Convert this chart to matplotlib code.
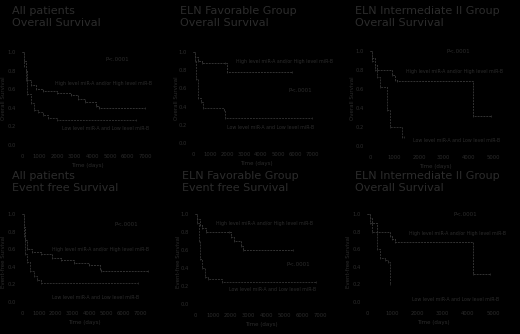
import matplotlib
matplotlib.use("Agg")
import matplotlib.pyplot as plt

W, H = 520, 334
BG = "black"
TXT = "#2c2c2c"
C_HIGH = "#333333"
C_LOW = "#2e2e2e"

titles = ["All patients\nOverall Survival", "ELN Favorable Group\nOverall Survival",
          "ELN Intermediate II Group\nOverall Survival", "All patients\nEvent free Survival",
          "ELN Favorable Group\nEvent free Survival", "ELN Intermediate II Group\nOverall Survival"]
ylabels = ["Overall Survival", "Overall Survival", "Overall Survival",
           "Event-free Survival", "Event-free Survival", "Event-free Survival"]
xlabel = "Time (days)"
high_label = "High level miR-A and/or High level miR-B"
low_label = "Low level miR-A and Low level miR-B"
p_labels = ["P<.0001", "P<.0001", "P<.0001", "P<.0001", "P<.0001", "P<.0001"]
x_max_ticks = [7000, 7000, 5000, 7000, 7000, 5000]
y_ticks = [0.0, 0.2, 0.4, 0.6, 0.8, 1.0]

# Kaplan-Meier step data (time in days, survival probability)
p1_high_t = [0, 100, 200, 300, 500, 800, 1200, 2000, 2800, 3200, 3600, 4200, 4400, 7000]
p1_high_s = [1.0, 0.9, 0.8, 0.7, 0.65, 0.6, 0.58, 0.56, 0.54, 0.5, 0.46, 0.42, 0.40, 0.40]
p1_low_t = [0, 100, 200, 300, 500, 700, 900, 1200, 1500, 2000, 6500]
p1_low_s = [1.0, 0.85, 0.7, 0.55, 0.45, 0.38, 0.35, 0.32, 0.29, 0.27, 0.27]

p2_high_t = [0, 100, 300, 500, 1900, 2000, 5800]
p2_high_s = [1.0, 0.95, 0.9, 0.88, 0.88, 0.78, 0.78]
p2_low_t = [0, 100, 200, 300, 450, 600, 1800, 1900, 7000]
p2_low_s = [1.0, 0.9, 0.7, 0.5, 0.45, 0.38, 0.36, 0.27, 0.27]

p3_high_t = [0, 100, 200, 300, 900, 1000, 1100, 4200, 4900]
p3_high_s = [1.0, 0.93, 0.85, 0.8, 0.75, 0.7, 0.68, 0.32, 0.32]
p3_low_t = [0, 100, 200, 300, 400, 700, 800, 1300, 1400]
p3_low_s = [1.0, 0.9, 0.8, 0.73, 0.62, 0.38, 0.2, 0.1, 0.1]

p4_high_t = [0, 100, 200, 300, 600, 1100, 1800, 2300, 3100, 4000, 4600, 4700, 7500]
p4_high_s = [1.0, 0.85, 0.7, 0.6, 0.57, 0.55, 0.5, 0.48, 0.44, 0.42, 0.38, 0.35, 0.35]
p4_low_t = [0, 100, 200, 300, 500, 700, 900, 1100, 6900]
p4_low_s = [1.0, 0.75, 0.55, 0.45, 0.35, 0.3, 0.25, 0.22, 0.22]

p5_high_t = [0, 100, 300, 400, 600, 1900, 2000, 2200, 2600, 2700, 5500]
p5_high_s = [1.0, 0.95, 0.88, 0.85, 0.8, 0.8, 0.75, 0.7, 0.65, 0.6, 0.6]
p5_low_t = [0, 100, 200, 300, 400, 550, 700, 1500, 6800]
p5_low_s = [1.0, 0.9, 0.7, 0.5, 0.4, 0.3, 0.28, 0.25, 0.25]

p6_high_t = [0, 100, 200, 400, 900, 1000, 1100, 4200, 4900]
p6_high_s = [1.0, 0.95, 0.9, 0.8, 0.75, 0.72, 0.68, 0.32, 0.32]
p6_low_t = [0, 100, 200, 400, 500, 700, 850, 900]
p6_low_s = [1.0, 0.9, 0.8, 0.6, 0.5, 0.48, 0.45, 0.2]

curves = [(p1_high_t, p1_high_s, p1_low_t, p1_low_s),
          (p2_high_t, p2_high_s, p2_low_t, p2_low_s),
          (p3_high_t, p3_high_s, p3_low_t, p3_low_s),
          (p4_high_t, p4_high_s, p4_low_t, p4_low_s),
          (p5_high_t, p5_high_s, p5_low_t, p5_low_s),
          (p6_high_t, p6_high_s, p6_low_t, p6_low_s)]

# layout: pixel positions of x=0, x=xmax, y=1, y=0 for each panel
layout = [(22, 145, 52, 145), (193, 312, 52, 143), (370, 493, 51, 146),
          (22, 140, 214, 302), (195, 320, 214, 304), (367, 493, 214, 302)]
title_pos = [(12, 6), (180, 6), (355, 6), (12, 171), (182, 171), (355, 171)]
ylabel_pos = [(4, 98), (176, 98), (352, 98), (4, 262), (178, 262), (349, 262)]
# annotation positions (data coords): p, high label, low label
p_pos = [(5400, 0.92), (6300, 0.58), (3600, 0.99), (6200, 0.88), (5800, 0.44), (3900, 0.99)]
high_pos = [(1900, 0.66), (2500, 0.90), (1450, 0.78), (1800, 0.60), (1200, 0.90), (1650, 0.78)]
low_pos = [(2300, 0.18), (2000, 0.17), (1750, 0.06), (1800, 0.05), (1900, 0.16), (1800, 0.03)]

fig = plt.figure(figsize=(W / 100, H / 100), dpi=100, facecolor=BG)

for i in range(6):
    x0, x1, yt, yb = layout[i]
    xm = x_max_ticks[i]
    xlo, xhi = -0.02 * xm, 1.08 * xm
    ylo, yhi = -0.06, 1.06
    sx = (x1 - x0) / xm
    sy = (yb - yt) / 1.0
    left = x0 + xlo * sx
    right = x0 + xhi * sx
    top = yb - yhi * sy
    bottom = yb - ylo * sy
    ax = fig.add_axes([left / W, 1 - bottom / H, (right - left) / W, (bottom - top) / H])
    ax.set_facecolor(BG)
    ax.set_xlim(xlo, xhi)
    ax.set_ylim(ylo, yhi)
    for sp in ax.spines.values():
        sp.set_visible(False)
    ax.set_xticks(list(range(0, xm + 1, 1000)))
    ax.set_xticklabels([str(v) for v in range(0, xm + 1, 1000)])
    ax.set_yticks(y_ticks)
    ax.set_yticklabels([f"{v:.1f}" for v in y_ticks])
    ax.tick_params(colors=TXT, labelsize=3.8, length=0, pad=2.5)
    ax.set_xlabel(xlabel, color=TXT, fontsize=4, labelpad=3)

    lx, ly = ylabel_pos[i]
    fig.text(lx / W, 1 - ly / H, ylabels[i], color=TXT, fontsize=4, rotation=90,
             ha="center", va="center")

    ht, hs, lt, ls = curves[i]
    ax.step(ht, hs, where="post", color=C_HIGH, lw=0.7, ls=(0, (2, 1)))
    ax.step(lt, ls, where="post", color=C_LOW, lw=0.7, ls=(0, (2, 1)))
    ax.plot(ht[1:], hs[1:], ls="none", marker="|", ms=2, color=C_HIGH, mew=0.5)
    ax.plot(lt[1:], ls[1:], ls="none", marker="|", ms=2, color=C_LOW, mew=0.5)

    ax.text(*p_pos[i], p_labels[i], color=TXT, fontsize=4, ha="center", va="center")
    ax.text(*high_pos[i], high_label, color=TXT, fontsize=3.4, ha="left", va="center")
    ax.text(*low_pos[i], low_label, color=TXT, fontsize=3.4, ha="left", va="center")

    tx, ty = title_pos[i]
    fig.text(tx / W, 1 - ty / H, titles[i], color=TXT, fontsize=8, ha="left", va="top",
             linespacing=1.2)

fig.savefig("out.png", dpi=100, facecolor=BG)
